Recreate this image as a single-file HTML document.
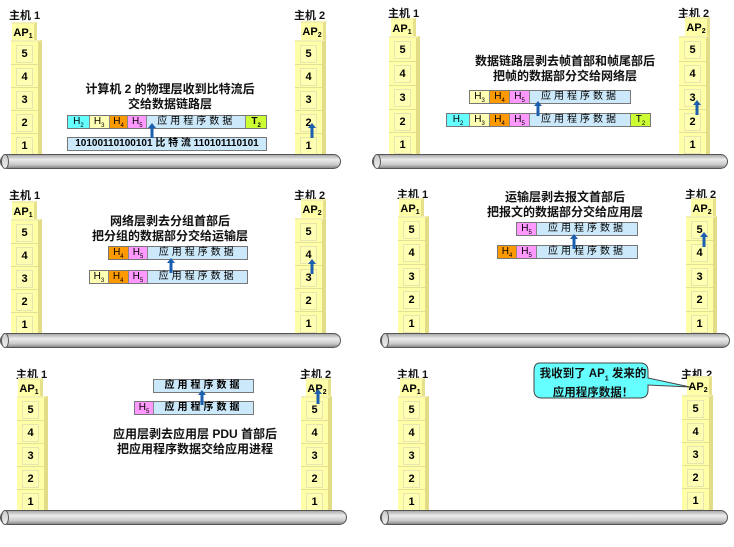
<!DOCTYPE html>
<html><head><meta charset="utf-8"><style>
body{margin:0;width:734px;height:547px;background:#fff;position:relative;overflow:hidden;font-family:"Liberation Sans","Noto Sans CJK SC",sans-serif;}
.a{position:absolute}
.lb{position:absolute;font-size:11px;font-weight:bold;color:#111;white-space:nowrap}
.ap{position:absolute;width:25px;height:19px;background:#ffffa8;border-right:3px solid #e6e08a;border-top:2px solid #f4f0b0;font-size:11px;font-weight:bold;text-align:center;line-height:18px;box-sizing:border-box}
.ap sub{font-size:7px;vertical-align:-2px}
.st{position:absolute;width:31px;background:#ffffa8;border-right:4px solid #e2dc86;border-top:2px solid #f4f0b0;box-sizing:border-box}
.ly{height:23px;border-bottom:1px solid #e4e09a;box-sizing:border-box;position:relative}
.ly span{position:absolute;left:5px;top:3px;width:15px;height:16px;border:1px solid #e8e4b0;font-size:11px;font-weight:bold;text-align:center;line-height:16px;background:#ffffb4}
.pipe{position:absolute;height:15px;border:1px solid #555;border-radius:8px;background:linear-gradient(#aaa,#ececec 35%,#c8c8c8 75%,#888);box-sizing:border-box}
.pipe:before{content:"";position:absolute;left:0;top:-1px;width:8px;height:15px;border:1px solid #555;border-radius:50%;background:linear-gradient(#ccc,#eee);box-sizing:border-box}
.bar{position:absolute;height:14px;display:flex;border:1px solid #777;box-sizing:border-box;font-size:10px}
.bar div{border-right:1px solid #888;text-align:center;line-height:12px;box-sizing:border-box}
.bar div:last-child{border-right:none}
.bar sub{font-size:6px}
.c{background:#66ffff}.y{background:#ffffb3}.o{background:#ff9900}.p{background:#ff99ff}.d{background:#cce9fb;letter-spacing:3px}.t{background:#ccff33;font-weight:bold}
.tx{position:absolute;font-size:12px;font-weight:bold;text-align:center;line-height:15px;white-space:nowrap;color:#111}
.ar{position:absolute;width:8px;height:15px}
</style></head><body>
<svg width="0" height="0" style="position:absolute"><defs><symbol id="up" viewBox="0 0 8 15"><polygon points="4,0 8,5 5.5,5 5.5,15 2.5,15 2.5,5 0,5" fill="#1c5fae"/></symbol></defs></svg>

<!-- Panel 1 -->
<div class="lb" style="left:9px;top:7px">主机 1</div>
<div class="ap" style="left:12px;top:22px">AP<sub>1</sub></div>
<div class="st" style="left:11px;top:40px;height:115px"><div class="ly"><span>5</span></div><div class="ly"><span>4</span></div><div class="ly"><span>3</span></div><div class="ly"><span>2</span></div><div class="ly"><span>1</span></div></div>
<div class="lb" style="left:294px;top:7px">主机 2</div>
<div class="ap" style="left:301px;top:21px">AP<sub>2</sub></div>
<div class="st" style="left:295px;top:40px;height:115px"><div class="ly"><span>5</span></div><div class="ly"><span>4</span></div><div class="ly"><span>3</span></div><div class="ly"><span>2</span></div><div class="ly"><span>1</span></div></div>
<div class="pipe" style="left:0;top:154px;width:341px"></div>
<div class="tx" style="left:70px;top:82px;width:200px">计算机 2 的物理层收到比特流后<br>交给数据链路层</div>
<div class="bar" style="left:67px;top:115px;width:200px"><div class="c" style="width:22px">H<sub>2</sub></div><div class="y" style="width:20px">H<sub>3</sub></div><div class="o" style="width:19px">H<sub>4</sub></div><div class="p" style="width:19px">H<sub>5</sub></div><div class="d" style="width:100px">应用程序数据</div><div class="t" style="width:20px">T<sub>2</sub></div></div>
<div class="bar" style="left:67px;top:137px;width:200px"><div class="d" style="width:198px;letter-spacing:0;font-weight:bold">10100110100101 比 特 流 110101110101</div></div>
<svg class="ar" style="left:148px;top:123px"><use href="#up"/></svg>
<svg class="ar" style="left:308px;top:123px"><use href="#up"/></svg>

<!-- Panel 2 -->
<div class="lb" style="left:388px;top:5px">主机 1</div>
<div class="ap" style="left:391px;top:18px">AP<sub>1</sub></div>
<div class="st" style="left:389px;top:36px;height:119px"><div class="ly" style="height:24px"><span>5</span></div><div class="ly" style="height:24px"><span>4</span></div><div class="ly" style="height:24px"><span>3</span></div><div class="ly" style="height:23px"><span>2</span></div><div class="ly" style="height:24px"><span>1</span></div></div>
<div class="lb" style="left:678px;top:5px">主机 2</div>
<div class="ap" style="left:685px;top:17px">AP<sub>2</sub></div>
<div class="st" style="left:679px;top:36px;height:119px"><div class="ly" style="height:24px"><span>5</span></div><div class="ly" style="height:24px"><span>4</span></div><div class="ly" style="height:24px"><span>3</span></div><div class="ly" style="height:23px"><span>2</span></div><div class="ly" style="height:24px"><span>1</span></div></div>
<div class="pipe" style="left:372px;top:154px;width:356px"></div>
<div class="tx" style="left:445px;top:54px;width:240px">数据链路层剥去帧首部和帧尾部后<br>把帧的数据部分交给网络层</div>
<div class="bar" style="left:469px;top:90px;width:162px"><div class="y" style="width:20px">H<sub>3</sub></div><div class="o" style="width:20px">H<sub>4</sub></div><div class="p" style="width:20px">H<sub>5</sub></div><div class="d" style="width:100px">应用程序数据</div></div>
<div class="bar" style="left:446px;top:113px;width:205px"><div class="c" style="width:23px">H<sub>2</sub></div><div class="y" style="width:20px">H<sub>3</sub></div><div class="o" style="width:20px">H<sub>4</sub></div><div class="p" style="width:20px">H<sub>5</sub></div><div class="d" style="width:101px">应用程序数据</div><div class="t" style="width:19px;font-weight:normal">T<sub>2</sub></div></div>
<svg class="ar" style="left:534px;top:101px"><use href="#up"/></svg>
<svg class="ar" style="left:693px;top:100px"><use href="#up"/></svg>

<!-- Panel 3 -->
<div class="lb" style="left:9px;top:187px">主机 1</div>
<div class="ap" style="left:12px;top:201px">AP<sub>1</sub></div>
<div class="st" style="left:11px;top:219px;height:115px"><div class="ly"><span>5</span></div><div class="ly"><span>4</span></div><div class="ly"><span>3</span></div><div class="ly"><span>2</span></div><div class="ly"><span>1</span></div></div>
<div class="lb" style="left:294px;top:187px">主机 2</div>
<div class="ap" style="left:301px;top:199px">AP<sub>2</sub></div>
<div class="st" style="left:295px;top:218px;height:116px"><div class="ly"><span>5</span></div><div class="ly"><span>4</span></div><div class="ly"><span>3</span></div><div class="ly"><span>2</span></div><div class="ly"><span>1</span></div></div>
<div class="pipe" style="left:0;top:333px;width:341px"></div>
<div class="tx" style="left:80px;top:214px;width:180px">网络层剥去分组首部后<br>把分组的数据部分交给运输层</div>
<div class="bar" style="left:108px;top:246px;width:140px"><div class="o" style="width:20px">H<sub>4</sub></div><div class="p" style="width:20px">H<sub>5</sub></div><div class="d" style="width:100px">应用程序数据</div></div>
<div class="bar" style="left:89px;top:270px;width:159px"><div class="y" style="width:19px">H<sub>3</sub></div><div class="o" style="width:20px">H<sub>4</sub></div><div class="p" style="width:20px">H<sub>5</sub></div><div class="d" style="width:100px">应用程序数据</div></div>
<svg class="ar" style="left:167px;top:258px"><use href="#up"/></svg>
<svg class="ar" style="left:308px;top:259px"><use href="#up"/></svg>

<!-- Panel 4 -->
<div class="lb" style="left:397px;top:186px">主机 1</div>
<div class="ap" style="left:399px;top:198px">AP<sub>1</sub></div>
<div class="st" style="left:398px;top:216px;height:118px"><div class="ly"><span>5</span></div><div class="ly" style="height:24px"><span>4</span></div><div class="ly"><span>3</span></div><div class="ly" style="height:24px"><span>2</span></div><div class="ly"><span>1</span></div></div>
<div class="lb" style="left:685px;top:186px">主机 2</div>
<div class="ap" style="left:691px;top:198px">AP<sub>2</sub></div>
<div class="st" style="left:686px;top:216px;height:118px"><div class="ly"><span>5</span></div><div class="ly" style="height:24px"><span>4</span></div><div class="ly"><span>3</span></div><div class="ly" style="height:24px"><span>2</span></div><div class="ly"><span>1</span></div></div>
<div class="pipe" style="left:380px;top:333px;width:350px"></div>
<div class="tx" style="left:445px;top:190px;width:240px">运输层剥去报文首部后<br>把报文的数据部分交给应用层</div>
<div class="bar" style="left:516px;top:222px;width:122px"><div class="p" style="width:20px">H<sub>5</sub></div><div class="d" style="width:100px">应用程序数据</div></div>
<div class="bar" style="left:497px;top:245px;width:141px"><div class="o" style="width:19px">H<sub>4</sub></div><div class="p" style="width:20px">H<sub>5</sub></div><div class="d" style="width:100px">应用程序数据</div></div>
<svg class="ar" style="left:570px;top:234px"><use href="#up"/></svg>
<svg class="ar" style="left:700px;top:232px"><use href="#up"/></svg>

<!-- Panel 5 -->
<div class="lb" style="left:16px;top:366px">主机 1</div>
<div class="ap" style="left:18px;top:378px">AP<sub>1</sub></div>
<div class="st" style="left:17px;top:396px;height:115px"><div class="ly"><span>5</span></div><div class="ly"><span>4</span></div><div class="ly"><span>3</span></div><div class="ly"><span>2</span></div><div class="ly"><span>1</span></div></div>
<div class="lb" style="left:300px;top:366px">主机 2</div>
<div class="ap" style="left:306px;top:378px">AP<sub>2</sub></div>
<div class="st" style="left:301px;top:396px;height:115px"><div class="ly"><span>5</span></div><div class="ly"><span>4</span></div><div class="ly"><span>3</span></div><div class="ly"><span>2</span></div><div class="ly"><span>1</span></div></div>
<div class="pipe" style="left:0;top:510px;width:347px"></div>
<div class="tx" style="left:95px;top:427px;width:200px">应用层剥去应用层 PDU 首部后<br>把应用程序数据交给应用进程</div>
<div class="bar" style="left:153px;top:379px;width:101px"><div class="d" style="width:99px;font-weight:bold">应用程序数据</div></div>
<div class="bar" style="left:134px;top:401px;width:120px"><div class="p" style="width:19px">H<sub>5</sub></div><div class="d" style="width:99px;font-weight:bold">应用程序数据</div></div>
<svg class="ar" style="left:198px;top:390px"><use href="#up"/></svg>
<svg class="ar" style="left:314px;top:389px"><use href="#up"/></svg>

<!-- Panel 6 -->
<div class="lb" style="left:397px;top:366px">主机 1</div>
<div class="ap" style="left:400px;top:378px">AP<sub>1</sub></div>
<div class="st" style="left:398px;top:396px;height:115px"><div class="ly"><span>5</span></div><div class="ly"><span>4</span></div><div class="ly"><span>3</span></div><div class="ly"><span>2</span></div><div class="ly"><span>1</span></div></div>
<div class="lb" style="left:681px;top:366px">主机 2</div>
<div class="ap" style="left:687px;top:376px">AP<sub>2</sub></div>
<div class="st" style="left:682px;top:395px;height:116px"><div class="ly"><span>5</span></div><div class="ly"><span>4</span></div><div class="ly"><span>3</span></div><div class="ly"><span>2</span></div><div class="ly"><span>1</span></div></div>
<div class="pipe" style="left:380px;top:510px;width:348px"></div>
<svg class="a" style="left:530px;top:360px" width="165" height="42"><path d="M10,3 H110 Q118,3 118,11 V18 L160,27 L118,25 V30 Q118,38 110,38 H12 Q4,38 4,30 V11 Q4,3 10,3 Z" fill="#66ffff" stroke="#444" stroke-width="1"/></svg>
<div class="tx" style="left:534px;top:367px;width:118px;font-size:11.5px">我收到了 AP<sub style="font-size:7px">1</sub> 发来的<br>应用程序数据！</div>
</body></html>
